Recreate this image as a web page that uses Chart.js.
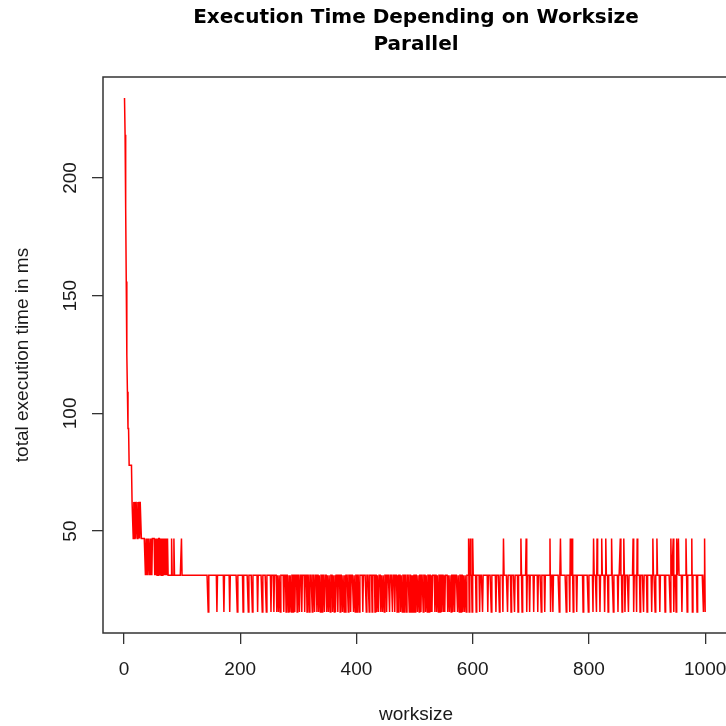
<!DOCTYPE html>
<html>
<head>
<meta charset="utf-8">
<script src="https://cdn.jsdelivr.net/npm/chart.js@4.4.1/dist/chart.umd.min.js"></script>
<style>
  html, body { margin: 0; padding: 0; background: #fff; overflow: hidden; }
  #wrap { width: 726px; height: 726px; overflow: hidden; }
  canvas { display: block; }
</style>
</head>
<body>
<div id="wrap"><canvas id="execChart" width="732" height="726"></canvas></div>
<script>
// measured times come in steps of the 15.6 ms timer tick
const baseLevel = 31.2;
const dipLevel = 15.6;
const peakLevel = 46.8;

// worksize 1..100, read point by point
const headTimes = [
  234, 218.4, 187.2, 156, 124.8, 109.2, 93.6, 93.6, 78, 78,
  78, 78, 78, 62.4, 62.4, 46.8, 62.4, 46.8, 62.4, 46.8,
  62.4, 62.4, 46.8, 62.4, 46.8, 62.4, 46.8, 62.4, 62.4, 46.8,
  46.8, 46.8, 46.8, 46.8, 46.8, 46.8, 31.2, 46.8, 31.2, 46.8,
  31.2, 46.8, 46.8, 31.2, 46.8, 31.2, 46.8, 31.2, 46.8, 46.8,
  46.8, 46.8, 31.2, 46.8, 31.2, 46.8, 31.2, 46.8, 31.2, 46.8,
  46.8, 31.2, 46.8, 31.2, 46.8, 31.2, 46.8, 31.2, 46.8, 31.2,
  46.8, 31.2, 46.8, 31.2, 46.8, 31.2, 31.2, 31.2, 31.2, 31.2,
  31.2, 46.8, 31.2, 31.2, 31.2, 46.8, 31.2, 31.2, 31.2, 31.2,
  31.2, 31.2, 31.2, 31.2, 31.2, 31.2, 31.2, 31.2, 46.8, 31.2
];

// worksizes above 100 that dropped to 15.6 ms
const dipSizes = [
  145, 160, 172, 182, 195, 205, 214, 221, 230, 238, 245, 253,
  258, 263, 266, 269, 275, 279, 283, 285, 288, 291, 294, 298, 302, 306, 311, 315,
  319, 324, 328, 332, 335, 338, 341, 345, 349, 352, 355, 359, 362, 364, 368, 372,
  376, 379, 381, 386, 390, 395, 398, 401, 405,
  411, 417, 422, 427, 432, 435, 438, 442, 445, 448, 452, 457, 462, 466, 470, 472,
  476, 479, 482, 486, 491, 494, 496, 498, 501, 505, 508, 511, 515, 519, 522, 525,
  528, 530, 535, 538, 541, 544, 547, 550, 552, 557, 560,
  563, 566, 569, 574, 577, 580, 583, 586, 589, 594, 599, 606, 612, 617, 626, 632,
  640, 646, 652, 660, 666, 672, 678, 685, 693, 698, 705,
  712, 718, 724, 734, 738, 749, 761, 767, 773, 779, 790, 799, 807, 813, 819, 827,
  833, 842, 850,
  857, 862, 868, 877, 882, 888, 894, 900, 908, 914, 922, 931, 940, 946, 950, 960,
  969, 978, 986, 997, 1000
];

// worksizes above 100 that rose to 46.8 ms
const peakSizes = [
  593, 596, 600, 653, 683, 692, 733, 751, 768, 771, 808, 814, 822, 829, 839,
  854, 860, 876, 883, 910, 917, 941, 945, 951, 954, 967, 977, 999
];

const xTicks = [0, 200, 400, 600, 800, 1000];
const yTicks = [50, 100, 150, 200];

const worksize = Array.from({length: 1000}, (_, i) => i + 1);
const timeMs = worksize.map(w => {
  if (w <= headTimes.length) return headTimes[w - 1];
  if (peakSizes.includes(w)) return peakLevel;
  if (dipSizes.includes(w)) return dipLevel;
  return baseLevel;
});

const fontFamily = '"Liberation Sans", Arial, sans-serif';
const ink = '#1a1a1a';

const frame = {
  id: 'frame',
  afterDraw(chart) {
    const {ctx, chartArea: a} = chart;
    ctx.save();
    ctx.strokeStyle = '#333';
    ctx.lineWidth = 1.5;
    ctx.strokeRect(a.left, a.top, a.right - a.left, a.bottom - a.top);
    ctx.restore();
  }
};

new Chart(document.getElementById('execChart'), {
  type: 'line',
  data: {
    datasets: [{
      data: worksize.map((w, i) => ({x: w, y: timeMs[i]})),
      borderColor: '#ff0000',
      borderWidth: 1.5,
      pointRadius: 0,
      fill: false,
      tension: 0
    }]
  },
  options: {
    responsive: false,
    animation: false,
    layout: { padding: {top: 0, left: 0, right: 3, bottom: 0}, autoPadding: false },
    plugins: {
      legend: { display: false },
      tooltip: { enabled: false },
      title: {
        display: true,
        fullSize: false,
        text: ['Execution Time Depending on Worksize', 'Parallel'],
        color: '#000',
        font: { family: '"DejaVu Sans", sans-serif', size: 20, weight: 'bold', lineHeight: 1.35 },
        padding: { top: 4, bottom: 19 }
      }
    },
    scales: {
      x: {
        type: 'linear',
        position: 'bottom',
        min: -36,
        max: 1041,
        afterBuildTicks: s => { s.ticks = xTicks.map(v => ({value: v})); },
        afterFit: s => { s.height = 93; s.paddingLeft = 0; s.paddingRight = 0; },
        ticks: { color: ink, font: { family: fontFamily, size: 19 }, padding: 14, minRotation: 0, maxRotation: 0, autoSkip: false, callback: v => String(v) },
        grid: { drawOnChartArea: false, drawTicks: true, tickLength: 11, color: '#333', lineWidth: 1.3 },
        border: { display: false },
        title: { display: true, text: 'worksize', color: ink, font: { family: fontFamily, size: 19 }, padding: {top: 0, bottom: 0} }
      },
      y: {
        type: 'linear',
        position: 'left',
        min: 6.7,
        max: 242.9,
        afterBuildTicks: s => { s.ticks = yTicks.map(v => ({value: v})); },
        afterFit: s => { s.width = 103; s.paddingTop = 0; s.paddingBottom = 0; },
        ticks: { color: ink, font: { family: fontFamily, size: 19 }, padding: 5, minRotation: 90, maxRotation: 90, crossAlign: 'center', autoSkip: false, callback: v => String(v) },
        grid: { drawOnChartArea: false, drawTicks: true, tickLength: 11, color: '#333', lineWidth: 1.3 },
        border: { display: false },
        title: { display: true, text: 'total execution time in ms', color: ink, font: { family: fontFamily, size: 19 }, padding: {top: 11, bottom: 0} }
      }
    }
  },
  plugins: [frame]
});
</script>
</body>
</html>
